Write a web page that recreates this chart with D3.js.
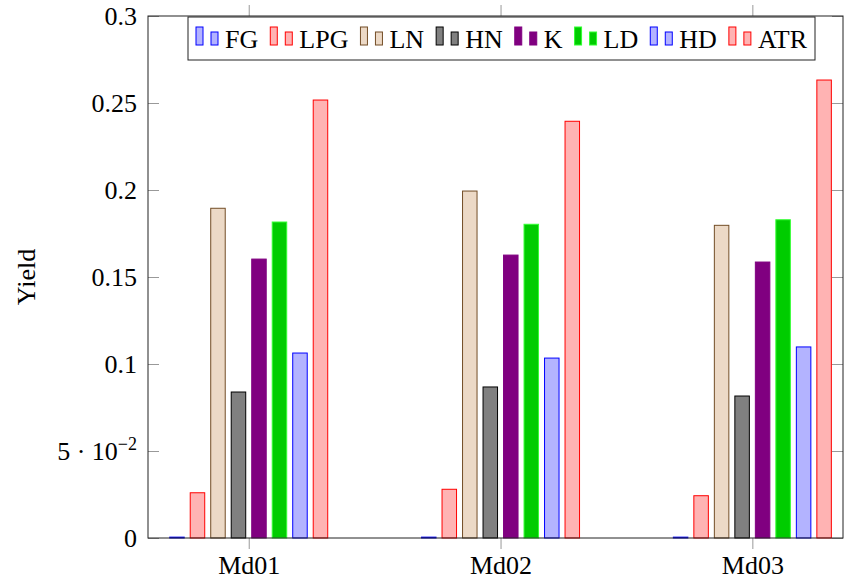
<!DOCTYPE html>
<html>
<head>
<meta charset="utf-8">
<script src="https://cdn.jsdelivr.net/npm/d3@7"></script>
<style>
  body { margin: 0; background: #fff; }
  svg text { font-family: "Liberation Serif", "Times New Roman", "DejaVu Serif", serif; fill: #000; }
</style>
</head>
<body>
<div id="chart"></div>
<script>
"use strict";

// data
const groups = ["Md01", "Md02", "Md03"];
const seriesNames = ["FG", "LPG", "LN", "HN", "K", "LD", "HD", "ATR"];
const FG  = [0.0005, 0.0005, 0.0005];
const LPG = [0.0260, 0.0280, 0.0243];
const LN  = [0.1895, 0.1994, 0.1797];
const HN  = [0.0839, 0.0868, 0.0816];
const K   = [0.1603, 0.1626, 0.1586];
const LD  = [0.1816, 0.1803, 0.1829];
const HD  = [0.1063, 0.1034, 0.1098];
const ATR = [0.2517, 0.2395, 0.2632];
const yTicks = [0, 0.05, 0.1, 0.15, 0.2, 0.25, 0.3];

const seriesValues = [FG, LPG, LN, HN, K, LD, HD, ATR];

// fill / stroke per series (pgfplots-ish colours)
const styles = [
    { fill: "#b3b3ff", stroke: "#0000ff" },
    { fill: "#ffb3b3", stroke: "#ff0000" },
    { fill: "#ecd9c6", stroke: "#734d26" },
    { fill: "#808080", stroke: "#000000" },
    { fill: "#800080", stroke: "#800080" },
    { fill: "#00cc00", stroke: "#33ff33" },
    { fill: "#b3b3ff", stroke: "#0000ff" },
    { fill: "#ffb3b3", stroke: "#ff0000" }
];

const width = 846, height = 583;
const margin = { top: 16, right: 3, bottom: 45, left: 148 };
const fontSize = 26;

const svg = d3.select("#chart").append("svg")
    .attr("width", width)
    .attr("height", height);

//----------------------------SCALES----------------------------//
const x = d3.scaleLinear()
    .domain([-0.4, groups.length - 1 + 0.36])
    .range([margin.left, width - margin.right]);
const y = d3.scaleLinear()
    .domain([0, 0.3])
    .range([height - margin.bottom, margin.top]);

const barStep = 20.5;   // distance between neighbouring bars
const barWidth = 14.5;

//-----------------------------BARS-----------------------------//
seriesValues.forEach((vals, s) => {
    const shift = (s - (seriesValues.length - 1) / 2) * barStep;
    svg.append("g")
        .selectAll("rect")
        .data(vals)
        .join("rect")
        .attr("x", (d, i) => x(i) + shift - barWidth / 2)
        .attr("y", d => y(d))
        .attr("width", barWidth)
        .attr("height", d => y(0) - y(d))
        .attr("fill", styles[s].fill)
        .attr("stroke", styles[s].stroke)
        .attr("stroke-width", 1);
});

//-----------------------------AXES-----------------------------//
const styleTicks = g => {
    g.select(".domain").remove();
    g.attr("font-family", null);
    g.selectAll("line").attr("stroke", "#999");
    g.selectAll("text").attr("font-size", fontSize);
};

const gx = svg.append("g")
    .attr("transform", `translate(0,${y(0)})`)
    .call(d3.axisBottom(x)
        .tickValues(d3.range(groups.length))
        .tickFormat(i => groups[i])
        .tickSizeInner(11).tickSizeOuter(0).tickPadding(7))
    .call(styleTicks);

svg.append("g")
    .attr("transform", `translate(0,${margin.top})`)
    .call(d3.axisTop(x)
        .tickValues(d3.range(groups.length))
        .tickFormat("")
        .tickSizeInner(11).tickSizeOuter(0))
    .call(styleTicks);

const gy = svg.append("g")
    .attr("transform", `translate(${margin.left},0)`)
    .call(d3.axisLeft(y)
        .tickValues(yTicks)
        .tickSizeInner(-11).tickSizeOuter(0).tickPadding(11)
        .tickFormat(d => d === 0.05 ? "" : String(+d.toFixed(2))))
    .call(styleTicks);

// 5·10^-2 label
const t5 = gy.selectAll(".tick").filter(d => d === 0.05).select("text");
t5.append("tspan").text("5 · 10");
t5.append("tspan").text("−2").attr("font-size", 18).attr("dy", -10);

svg.append("g")
    .attr("transform", `translate(${width - margin.right},0)`)
    .call(d3.axisRight(y)
        .tickValues(yTicks)
        .tickSizeInner(-11).tickSizeOuter(0)
        .tickFormat(""))
    .call(styleTicks);

// frame
svg.append("rect")
    .attr("x", margin.left)
    .attr("y", margin.top)
    .attr("width", width - margin.left - margin.right)
    .attr("height", height - margin.top - margin.bottom)
    .attr("fill", "none")
    .attr("stroke", "#222")
    .attr("stroke-width", 1);

// y label
svg.append("text")
    .attr("transform", `translate(35,${(margin.top + height - margin.bottom) / 2}) rotate(-90)`)
    .attr("text-anchor", "middle")
    .attr("font-size", fontSize)
    .text("Yield");

//----------------------------LEGEND----------------------------//
const legendLeft = 188, legendRight = 815;
const legendTop = 17, legendBottom = 60, baseline = 48;
const legend = svg.append("g");
legend.append("rect")
    .attr("x", legendLeft)
    .attr("y", legendTop)
    .attr("width", legendRight - legendLeft)
    .attr("height", legendBottom - legendTop)
    .attr("fill", "#fff")
    .attr("stroke", "#222")
    .attr("stroke-width", 1);

// first pass: build entries and measure
const entries = seriesNames.map((name, s) => {
    const g = legend.append("g");
    g.append("rect")
        .attr("x", 0).attr("y", baseline - 3 - 18)
        .attr("width", 7).attr("height", 18)
        .attr("fill", styles[s].fill).attr("stroke", styles[s].stroke);
    g.append("rect")
        .attr("x", 15).attr("y", baseline - 3 - 13)
        .attr("width", 7).attr("height", 13)
        .attr("fill", styles[s].fill).attr("stroke", styles[s].stroke);
    const txt = g.append("text")
        .attr("x", 29).attr("y", baseline)
        .attr("font-size", fontSize)
        .text(name);
    return { g, w: 29 + txt.node().getComputedTextLength() };
});
// second pass: spread entries over the box
const pad = 8;
const used = d3.sum(entries, e => e.w);
const gap = (legendRight - legendLeft - 2 * pad - used) / (entries.length - 1);
let cx = legendLeft + pad;
entries.forEach(e => {
    e.g.attr("transform", `translate(${cx},0)`);
    cx += e.w + gap;
});
</script>
</body>
</html>
